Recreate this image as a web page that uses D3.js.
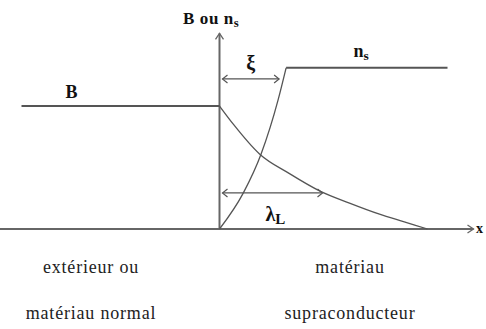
<!DOCTYPE html>
<html><head><meta charset="utf-8">
<script src="https://cdn.jsdelivr.net/npm/d3@7"></script>
<style>
html,body{margin:0;padding:0;background:#fff;}
svg{display:block;}
svg text{font-family:"Liberation Serif",Tinos,"Noto Serif","DejaVu Serif",FreeSerif,"Times New Roman",Times,serif;}
</style></head>
<body>
<svg id="chart" width="486" height="329"></svg>
<script>
// ---- data ----
const bOutsideX = [-9.9, 0];
const bOutsideVal = [1, 1];
const bInsideX = [0, 0.7, 2.0, 3.5, 5.0, 6.5, 8.0, 9.2, 10.4];
const bInsideVal = [1, 0.85, 0.61, 0.45, 0.31, 0.21, 0.12, 0.06, 0];
const nsRiseX = [0, 1.18, 2.08, 2.93, 3.33];
const nsRiseVal = [0, 0.29, 0.61, 1.05, 1.31];
const nsFlatX = [3.33, 11.4];
const nsFlatVal = [1.31, 1.31];
const xiRange = [0.15, 2.98];
const xiLevel = 1.22;
const lambdaRange = [0.15, 5.15];
const lambdaLevel = 0.293;
const regionLabels = [["extérieur ou", "matériau normal"], ["matériau", "supraconducteur"]];

// ---- scales ----
const x = d3.scaleLinear().domain([-10, 12.7]).range([19.5, 473.5]);
const y = d3.scaleLinear().domain([0, 1.6]).range([229, 32.2]);

const svg = d3.select("#chart");
const lineCol = "#555";
const axisCol = "#666";

function pts(xs, vs){ return xs.map((d,i)=>[d, vs[i]]); }
const lineLin = d3.line().x(d=>x(d[0])).y(d=>y(d[1]));
const lineCurve = d3.line().x(d=>x(d[0])).y(d=>y(d[1])).curve(d3.curveMonotoneX);

// axes
const x0 = x(0), y0 = y(0);
const xEnd = x(12.7), yTop = y(1.59);
svg.append("line").attr("x1", x(-11)).attr("x2", xEnd).attr("y1", y0).attr("y2", y0)
  .attr("stroke", axisCol).attr("stroke-width", 2);
svg.append("line").attr("x1", x0).attr("x2", x0).attr("y1", y0).attr("y2", yTop)
  .attr("stroke", axisCol).attr("stroke-width", 2);
svg.append("path").attr("d", `M${xEnd-6},${y0-4}L${xEnd},${y0}L${xEnd-6},${y0+4}`)
  .attr("fill","none").attr("stroke", axisCol).attr("stroke-width", 1.3);
svg.append("path").attr("d", `M${x0-4},${yTop+6}L${x0},${yTop}L${x0+4},${yTop+6}`)
  .attr("fill","none").attr("stroke", axisCol).attr("stroke-width", 1.3);

// B curves
svg.append("path").attr("d", lineLin(pts(bOutsideX, bOutsideVal)))
  .attr("fill","none").attr("stroke", lineCol).attr("stroke-width", 2);
svg.append("path").attr("d", lineCurve(pts(bInsideX, bInsideVal)))
  .attr("fill","none").attr("stroke", lineCol).attr("stroke-width", 1.3);
// ns curves
svg.append("path").attr("d", lineCurve(pts(nsRiseX, nsRiseVal)))
  .attr("fill","none").attr("stroke", lineCol).attr("stroke-width", 1.3);
svg.append("path").attr("d", lineLin(pts(nsFlatX, nsFlatVal)))
  .attr("fill","none").attr("stroke", lineCol).attr("stroke-width", 2);

// double arrows
function dblArrow(r, lvl){
  const a = x(r[0]), b = x(r[1]), yy = y(lvl);
  svg.append("line").attr("x1", a).attr("x2", b).attr("y1", yy).attr("y2", yy)
    .attr("stroke", lineCol).attr("stroke-width", 1.3);
  svg.append("path").attr("d", `M${a+5},${yy-4}L${a},${yy}L${a+5},${yy+4}M${b-5},${yy-4}L${b},${yy}L${b-5},${yy+4}`)
    .attr("fill","none").attr("stroke", lineCol).attr("stroke-width", 1.2);
}
dblArrow(xiRange, xiLevel);
dblArrow(lambdaRange, lambdaLevel);

// labels
function label(tx, ty, main, sub, size, anchor){
  const t = svg.append("text").attr("x", tx).attr("y", ty)
    .attr("font-weight", "bold").attr("font-size", size)
    .attr("fill", "#111").attr("text-anchor", anchor || "start");
  t.append("tspan").text(main);
  if (sub) t.append("tspan").attr("dy", 3).attr("font-size", size*0.75).text(sub);
  return t;
}
label(183, 24, "B ou n", "s", 17).attr("letter-spacing", 0.6);
label(x(-7.7), y(1) - 8, "B", null, 18);
label(x(6.7), 57, "n", "s", 18);
label((x(xiRange[0])+x(xiRange[1]))/2, 70, "ξ", null, 20, "middle");
label(x(lambdaRange[0]) + 43, 221, "λ", "L", 20);
svg.append("text").attr("x", 476).attr("y", 233)
  .attr("font-weight","bold").attr("font-size", 14).attr("fill","#111").text("x");

// region labels
const regionX = [91, 350];
const rowY = [273, 319];
regionLabels.forEach((lines, i) => {
  lines.forEach((s, j) => {
    svg.append("text").attr("x", regionX[i]).attr("y", rowY[j])
      .attr("text-anchor", "middle")
      .attr("font-size", 18).attr("letter-spacing", 0.8).attr("fill", "#222").text(s);
  });
});
</script>
</body></html>
